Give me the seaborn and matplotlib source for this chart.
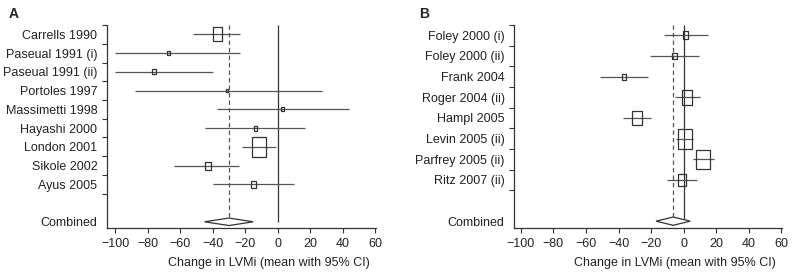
import numpy as np
import pandas as pd
import seaborn as sns
import matplotlib.pyplot as plt

# Panel A studies
studies_a = ["Carrells 1990", "Paseual 1991 (i)", "Paseual 1991 (ii)", "Portoles 1997",
             "Massimetti 1998", "Hayashi 2000", "London 2001", "Sikole 2002", "Ayus 2005"]
mean_a = [-37, -67, -76, -31, 3, -13.5, -11.5, -43, -15]
lo_a = [-52, -100, -100, -88, -37.5, -44.5, -22, -63.5, -39.5]
hi_a = [-23, -23, -39.5, 27, 44, 17, -1, -23.5, 10]
weight_a = [24.6, 2.0, 3.1, 0.8, 2.0, 3.1, 50.2, 8.0, 6.1]
combined_a = (-30, -45, -15)  # estimate, lower, upper

# Panel B studies
studies_b = ["Foley 2000 (i)", "Foley 2000 (ii)", "Frank 2004", "Roger 2004 (ii)",
             "Hampl 2005", "Levin 2005 (ii)", "Parfrey 2005 (ii)", "Ritz 2007 (ii)"]
mean_b = [1.2, -5.5, -36.7, 2, -28.7, 0.6, 11.8, -1]
lo_b = [-12, -21, -51.4, -5.3, -37, -4.5, 5.7, -10.4]
hi_b = [15, 9.5, -22, 10, -20.4, 5.7, 18.3, 8.1]
weight_b = [4.3, 3.3, 2.4, 15.3, 13.3, 27.1, 24.5, 9.8]
combined_b = (-6.5, -17, 4)

xticks = [-100, -80, -60, -40, -20, 0, 20, 40, 60]

sns.set_theme(style="ticks")
plt.rcParams['font.family'] = ['Liberation Sans', 'DejaVu Sans']

DARK = "#333333"
GREY = "#555555"
box = [(-1, -1.45), (1, -1.45), (1, 1.45), (-1, 1.45), (-1, -1.45)]

fig = plt.figure(figsize=(7.96, 2.75), dpi=100)
ax_a = fig.add_axes([0.1344, 0.171, 0.338, 0.738])
ax_b = fig.add_axes([0.6461, 0.171, 0.3367, 0.738])


def forest(ax, studies, mean, lo, hi, weight, combined, xlim):
    n = len(studies)
    rows = np.arange(1, n + 1)
    crow = n + 2
    df = pd.DataFrame({"study": studies, "mean": mean, "row": rows, "weight": weight})

    # confidence intervals and weighted boxes
    ax.hlines(rows, lo, hi, color=GREY, lw=0.9, zorder=2)
    sns.scatterplot(data=df, x="mean", y="row", size="weight",
                    sizes=(0, 207), size_norm=(0, max(weight)),
                    marker=box, facecolor="none", edgecolor=DARK, color=DARK,
                    linewidth=0.9, legend=False, ax=ax, zorder=3)

    # pooled estimate diamond + reference lines
    est, clo, chi = combined
    h = 0.2
    ax.fill([clo, est, chi, est, clo], [crow, crow - h, crow, crow + h, crow],
            facecolor="white", edgecolor=DARK, lw=0.9, zorder=3)
    ax.vlines(0, 0.5, crow, color=DARK, lw=0.9, zorder=1)
    ax.vlines(est, 0.5, crow - h, color=GREY, lw=0.9, linestyles=(0, (3.5, 2.5)), zorder=1)

    ax.set_xlim(*xlim)
    ax.set_ylim(crow + 0.33, 0.5)
    ax.set_xticks(xticks)
    ax.set_yticks(list(rows) + [crow], studies + ["Combined"])
    ax.set_yticks(list(np.arange(0.5, n + 1, 1.0)) + [crow], minor=True)
    ax.tick_params(axis="y", which="major", length=0, pad=7, labelsize=9, colors="#222222")
    ax.tick_params(axis="y", which="minor", length=3.5, width=0.8, color=DARK)
    ax.tick_params(axis="x", length=3.5, width=0.8, color=DARK, labelsize=9,
                   labelcolor="#222222", pad=3.5)
    ax.set_xlabel("Change in LVMi (mean with 95% CI)", fontsize=9, color="#222222")
    ax.xaxis.set_label_coords(0.6, -0.145)
    ax.set_ylabel("")
    for s in ["top", "right"]:
        ax.spines[s].set_visible(False)
    for s in ["left", "bottom"]:
        ax.spines[s].set_color(DARK)
        ax.spines[s].set_linewidth(0.9)


forest(ax_a, studies_a, mean_a, lo_a, hi_a, weight_a, combined_a, (-105, 60.5))
forest(ax_b, studies_b, mean_b, lo_b, hi_b, weight_b, combined_b, (-104, 60.5))

fig.text(0.011, 0.948, "A", fontsize=10, fontweight="bold", va="center")
fig.text(0.527, 0.948, "B", fontsize=10, fontweight="bold", va="center")

fig.savefig("out.png", dpi=100)
